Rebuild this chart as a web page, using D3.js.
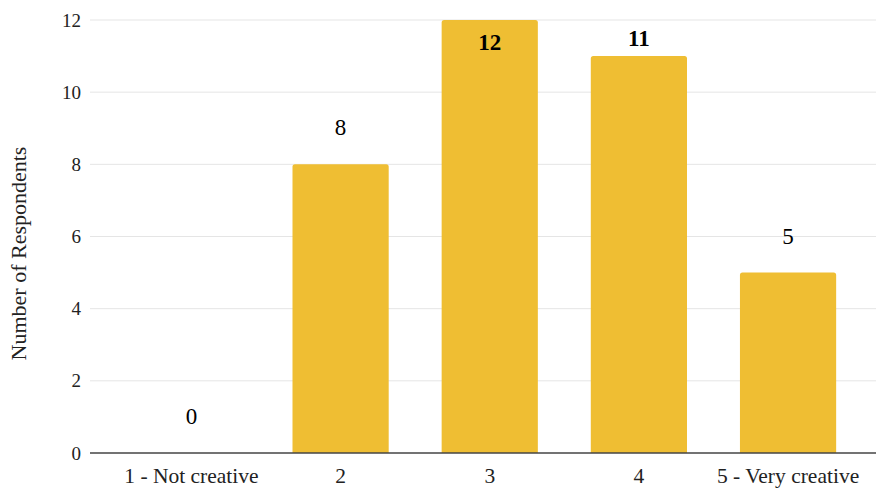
<!DOCTYPE html>
<html>
<head>
<meta charset="utf-8">
<script src="https://cdn.jsdelivr.net/npm/d3@7"></script>
<style>
  html, body { margin: 0; padding: 0; background: #fff; }
  svg { display: block; font-family: "Liberation Serif", "Times New Roman", serif; }
</style>
</head>
<body>
<svg id="chart" width="877" height="488"></svg>
<script>
// Creativity self-rating responses
const categories = ["1 - Not creative", "2", "3", "4", "5 - Very creative"];
const respondents = [0, 8, 12, 11, 5];
const yTicks = [0, 2, 4, 6, 8, 10, 12];
const boldLabels = ["3", "4"];

const svg = d3.select("#chart");
const plot = { left: 90, right: 876, top: 20, bottom: 453 };
const serif = "'Liberation Serif', 'Times New Roman', serif";

const x = d3.scaleBand()
  .domain(categories)
  .range([116.5, 863])
  .paddingInner(0.355)
  .paddingOuter(0.18);

const y = d3.scaleLinear()
  .domain([0, 12])
  .range([plot.bottom, plot.top]);

// horizontal gridlines
svg.append("g")
  .selectAll("line")
  .data(yTicks.filter(d => d !== 0))
  .join("line")
  .attr("x1", plot.left).attr("x2", plot.right)
  .attr("y1", d => y(d)).attr("y2", d => y(d))
  .attr("stroke", "#e5e5e5").attr("stroke-width", 1);

// y axis tick labels
const yAxis = d3.axisLeft(y).tickValues(yTicks).tickSize(0).tickPadding(0);
svg.append("g")
  .attr("transform", `translate(81,0)`)
  .call(yAxis)
  .attr("font-family", serif)
  .attr("font-size", 19)
  .call(g => g.select(".domain").remove())
  .call(g => g.selectAll("text").attr("fill", "#222"));

// bars with slightly rounded top corners
const r = 2.5;
svg.append("g")
  .selectAll("path")
  .data(categories.map((c, i) => ({ c, v: respondents[i] })).filter(d => d.v > 0))
  .join("path")
  .attr("fill", "#EFBE33")
  .attr("d", d => {
    const x0 = x(d.c), x1 = x0 + x.bandwidth();
    const yt = y(d.v), yb = y(0);
    return `M${x0},${yb}V${yt + r}Q${x0},${yt} ${x0 + r},${yt}H${x1 - r}Q${x1},${yt} ${x1},${yt + r}V${yb}Z`;
  });

// baseline
svg.append("line")
  .attr("x1", plot.left).attr("x2", plot.right)
  .attr("y1", y(0)).attr("y2", y(0))
  .attr("stroke", "#444").attr("stroke-width", 1.5);

// x axis labels
const xAxis = d3.axisBottom(x).tickSize(0).tickPadding(0);
svg.append("g")
  .attr("transform", `translate(0,${y(0) + 15})`)
  .call(xAxis)
  .attr("font-family", serif)
  .attr("font-size", 21.5)
  .call(g => g.select(".domain").remove())
  .call(g => g.selectAll("text").attr("fill", "#222"));

// value labels: above each bar; a bar reaching the top of the scale
// carries its label inside, others are nudged down to stay in the plot
const yMax = y.domain()[1];
const labelY = v => v >= yMax ? y(v) + 30 : Math.max(y(v) - 29, 46);
svg.append("g")
  .attr("font-family", serif)
  .selectAll("text")
  .data(categories.map((c, i) => ({ c, v: respondents[i] })))
  .join("text")
  .attr("x", d => x(d.c) + x.bandwidth() / 2)
  .attr("y", d => labelY(d.v))
  .attr("text-anchor", "middle")
  .attr("font-size", 23)
  .attr("font-weight", d => boldLabels.includes(d.c) ? "bold" : "normal")
  .attr("fill", "#000")
  .text(d => d.v);

// y axis title
svg.append("text")
  .attr("transform", `translate(26,${(plot.top + plot.bottom) / 2 + 17}) rotate(-90)`)
  .attr("text-anchor", "middle")
  .attr("font-family", serif)
  .attr("font-size", 22)
  .attr("fill", "#222")
  .text("Number of Respondents");
</script>
</body>
</html>
